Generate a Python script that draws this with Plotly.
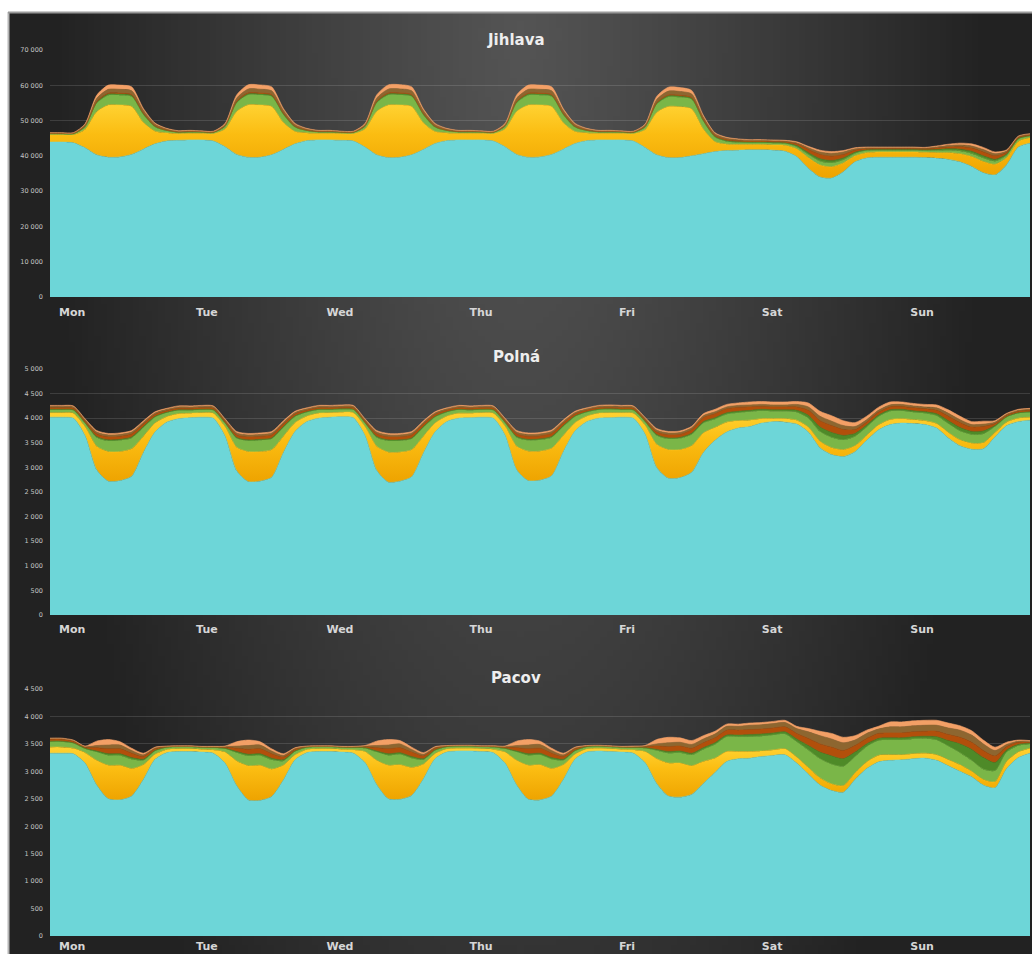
import base64, struct, zlib, math
import plotly.graph_objects as go

W, H = 1032, 954

HOURS = list(range(0, 169, 2))
DAY_LABELS = ["Mon", "Tue", "Wed", "Thu", "Fri", "Sat", "Sun"]
DAY_LABEL_HOURS = [3.8, 26.9, 49.7, 73.9, 98.9, 123.8, 149.5]
PANEL_TITLES = ["Jihlava", "Polná", "Pacov"]
LAYER_NAMES = ["L1", "L2", "L3", "L4", "L5", "L6", "L7"]
COLORS = ["#6dd6d8", "#fdc31e", "#7ab648", "#4e8a28", "#b24f0b", "#8d6630", "#f3a066"]

# ---------------- Jihlava ----------------
J_CYAN = [43900, 43900, 43700, 42300, 40300, 39600, 39700, 40400, 41900, 43400, 44200, 44400,
          44500, 44500, 44200, 42600, 40400, 39600, 39600, 40300, 41800, 43400, 44300, 44500,
          44500, 44400, 44200, 42500, 40300, 39500, 39600, 40300, 41800, 43500, 44300, 44500,
          44500, 44500, 44200, 42600, 40400, 39600, 39700, 40400, 41900, 43500, 44300, 44500,
          44500, 44500, 44200, 42400, 40300, 39500, 39500, 40000, 40600, 41200, 41500, 41600,
          41700, 41700, 41600, 41300, 39800, 36500, 34000, 33700, 35500, 38300, 39400, 39600,
          39600, 39600, 39600, 39500, 39300, 39000, 38300, 37000, 35200, 34600, 37500, 42500,
          43600]
J_YELLOW = [2100, 2100, 2300, 5200, 12200, 14800, 14700, 13600, 7600, 3600, 2300, 1900,
            1900, 1900, 2100, 5000, 12200, 14900, 14800, 13700, 7700, 3500, 2200, 1900,
            1900, 1900, 2100, 5100, 12300, 14900, 14800, 13700, 7600, 3400, 2200, 1900,
            1900, 1900, 2100, 5000, 12200, 14800, 14700, 13600, 7500, 3400, 2200, 1900,
            1900, 1900, 2100, 5000, 12000, 14500, 14400, 13300, 7000, 2800, 1800, 1600,
            1500, 1500, 1500, 1700, 2200, 3000, 3400, 3200, 2500, 1700, 1500, 1500,
            1500, 1500, 1500, 1500, 1600, 1900, 2300, 2800, 3200, 3000, 2000, 1600,
            1500]
J_LGREEN = [200, 200, 200, 700, 2400, 2800, 2800, 2800, 2200, 1200, 600, 300,
            300, 250, 250, 700, 2400, 2800, 2850, 2800, 2200, 1200, 600, 300,
            300, 250, 250, 700, 2400, 2850, 2850, 2800, 2200, 1200, 600, 300,
            300, 250, 250, 700, 2400, 2800, 2800, 2800, 2200, 1200, 600, 300,
            300, 250, 250, 700, 2300, 2700, 2700, 2700, 2200, 1300, 800, 600,
            500, 500, 500, 500, 600, 900, 1100, 1100, 900, 700, 600, 500,
            500, 500, 500, 500, 600, 700, 800, 900, 1000, 900, 700, 600,
            500]
J_DGREEN = [100, 100, 100, 150, 250, 300, 300, 300, 250, 150, 100, 100,
            100, 100, 100, 150, 250, 300, 300, 300, 250, 150, 100, 100,
            100, 100, 100, 150, 250, 300, 320, 300, 250, 150, 100, 100,
            100, 100, 100, 150, 250, 300, 300, 300, 250, 150, 100, 100,
            100, 100, 100, 150, 250, 300, 300, 300, 250, 200, 200, 200,
            200, 200, 200, 200, 300, 500, 700, 700, 500, 300, 200, 200,
            200, 200, 200, 200, 300, 400, 500, 600, 600, 500, 300, 200,
            100]
J_DORANGE = [80, 80, 80, 100, 200, 250, 250, 250, 200, 150, 100, 80,
             80, 80, 80, 100, 200, 250, 250, 250, 200, 150, 100, 80,
             80, 80, 80, 100, 200, 260, 260, 250, 200, 150, 100, 80,
             80, 80, 80, 100, 200, 250, 250, 250, 200, 150, 100, 80,
             80, 80, 80, 100, 200, 250, 250, 250, 250, 250, 300, 300,
             300, 300, 300, 300, 500, 900, 1200, 1200, 1000, 600, 300, 300,
             300, 300, 300, 300, 400, 500, 700, 900, 1100, 1000, 500, 300,
             200]
J_BROWN = [100, 100, 100, 300, 900, 1100, 1100, 1100, 800, 500, 300, 200,
           200, 150, 150, 300, 900, 1100, 1100, 1100, 800, 500, 300, 200,
           200, 150, 150, 300, 900, 1100, 1150, 1100, 800, 500, 300, 200,
           200, 150, 150, 300, 900, 1100, 1100, 1100, 800, 500, 300, 200,
           200, 150, 150, 300, 900, 1100, 1100, 1000, 700, 500, 400, 300,
           200, 200, 200, 200, 300, 500, 700, 800, 700, 400, 300, 200,
           200, 200, 200, 200, 300, 400, 500, 600, 700, 600, 400, 200,
           200]
J_SALMON = [100, 100, 100, 300, 900, 1200, 1200, 1100, 500, 300, 200, 150,
            150, 100, 100, 300, 900, 1200, 1200, 1100, 500, 300, 200, 150,
            150, 100, 100, 300, 900, 1200, 1200, 1100, 500, 300, 200, 150,
            150, 100, 100, 300, 900, 1200, 1200, 1100, 500, 300, 200, 150,
            150, 100, 100, 300, 900, 1100, 1100, 1000, 500, 300, 250, 200,
            200, 200, 200, 200, 300, 400, 500, 500, 400, 300, 200, 200,
            200, 200, 200, 200, 300, 400, 500, 600, 600, 500, 300, 200,
            200]

# ---------------- Polná ----------------
P_CYAN = [4020, 4020, 4000, 3650, 2950, 2720, 2730, 2820, 3300, 3720, 3920, 3990,
          4010, 4020, 4000, 3640, 2930, 2710, 2720, 2800, 3300, 3730, 3930, 4000,
          4020, 4030, 4010, 3650, 2940, 2700, 2720, 2810, 3290, 3720, 3930, 4000,
          4010, 4020, 4000, 3660, 2950, 2730, 2740, 2830, 3320, 3740, 3930, 4000,
          4010, 4020, 4000, 3680, 3000, 2780, 2790, 2900, 3300, 3550, 3720, 3800,
          3830, 3900, 3930, 3920, 3880, 3720, 3400, 3260, 3220, 3320, 3550, 3760,
          3870, 3900, 3890, 3870, 3800, 3600, 3440, 3370, 3380, 3620, 3850, 3930,
          3960]
P_YELLOW = [90, 90, 100, 180, 480, 600, 590, 560, 330, 180, 110, 100,
            90, 90, 100, 190, 480, 610, 600, 560, 330, 180, 110, 100,
            90, 90, 100, 180, 490, 610, 590, 550, 340, 180, 110, 100,
            90, 90, 100, 180, 480, 600, 590, 560, 330, 170, 110, 100,
            100, 90, 100, 180, 470, 580, 570, 540, 400, 260, 200, 150,
            130, 90, 60, 70, 80, 100, 130, 140, 140, 120, 100, 100,
            100, 90, 80, 80, 90, 110, 120, 120, 120, 90, 70, 70,
            60]
P_LGREEN = [60, 60, 60, 70, 180, 220, 230, 220, 180, 120, 80, 70,
            60, 60, 60, 70, 180, 220, 230, 220, 180, 120, 80, 70,
            60, 60, 60, 70, 180, 230, 230, 220, 180, 120, 80, 70,
            60, 60, 60, 70, 180, 220, 230, 220, 180, 120, 80, 70,
            70, 60, 60, 70, 180, 220, 230, 230, 200, 170, 160, 160,
            170, 160, 150, 150, 160, 180, 200, 210, 200, 190, 170, 170,
            170, 160, 150, 150, 160, 180, 180, 180, 180, 120, 100, 100,
            100]
P_DGREEN = [10, 10, 10, 10, 20, 20, 20, 20, 20, 15, 10, 10,
            10, 10, 10, 10, 20, 20, 20, 20, 20, 15, 10, 10,
            10, 10, 10, 10, 20, 20, 20, 20, 20, 15, 10, 10,
            10, 10, 10, 10, 20, 20, 20, 20, 20, 15, 10, 10,
            10, 10, 10, 10, 20, 20, 20, 25, 30, 30, 30, 30,
            30, 30, 30, 30, 40, 60, 90, 100, 90, 60, 40, 30,
            30, 30, 30, 30, 40, 60, 70, 60, 60, 20, 10, 10,
            10]
P_DORANGE = [30, 30, 30, 30, 50, 60, 60, 60, 50, 40, 30, 30,
             30, 30, 30, 30, 50, 60, 60, 60, 50, 40, 30, 30,
             30, 30, 30, 30, 50, 60, 60, 60, 50, 40, 30, 30,
             30, 30, 30, 30, 50, 60, 60, 60, 50, 40, 30, 30,
             30, 30, 30, 30, 50, 60, 60, 70, 80, 80, 80, 80,
             70, 60, 60, 60, 70, 100, 130, 140, 120, 80, 60, 60,
             60, 60, 60, 60, 70, 90, 100, 90, 90, 40, 30, 30,
             30]
P_BROWN = [30, 30, 30, 30, 40, 40, 40, 40, 35, 30, 30, 30,
           30, 30, 30, 30, 40, 40, 40, 40, 35, 30, 30, 30,
           30, 30, 30, 30, 40, 40, 40, 40, 35, 30, 30, 30,
           30, 30, 30, 30, 40, 40, 40, 40, 35, 30, 30, 30,
           30, 30, 30, 30, 40, 40, 40, 40, 40, 40, 40, 40,
           40, 40, 40, 40, 50, 70, 90, 90, 80, 60, 50, 40,
           40, 40, 40, 40, 50, 60, 60, 50, 50, 30, 20, 20,
           20]
P_SALMON = [20, 20, 20, 20, 30, 30, 30, 30, 30, 25, 20, 20,
            20, 20, 20, 20, 30, 30, 30, 30, 30, 25, 20, 20,
            20, 20, 20, 20, 30, 30, 30, 30, 30, 25, 20, 20,
            20, 20, 20, 20, 30, 30, 30, 30, 30, 25, 20, 20,
            20, 20, 20, 20, 30, 30, 30, 30, 40, 50, 50, 50,
            60, 60, 60, 60, 60, 80, 100, 110, 100, 80, 70, 60,
            60, 50, 50, 50, 60, 70, 70, 60, 60, 30, 20, 20,
            20]

# ---------------- Pacov ----------------
C_CYAN = [3330, 3330, 3320, 3150, 2750, 2500, 2480, 2550, 2850, 3220, 3340, 3360,
          3360, 3350, 3330, 3150, 2740, 2480, 2470, 2540, 2840, 3210, 3340, 3360,
          3360, 3350, 3330, 3160, 2760, 2500, 2490, 2560, 2860, 3230, 3350, 3370,
          3370, 3360, 3340, 3150, 2750, 2490, 2480, 2550, 2850, 3220, 3350, 3370,
          3360, 3350, 3330, 3160, 2780, 2550, 2530, 2580, 2780, 2980, 3180, 3230,
          3240, 3270, 3290, 3300, 3150, 2950, 2750, 2650, 2620, 2850, 3050, 3170,
          3200, 3210, 3230, 3240, 3200, 3100, 3000, 2900, 2750, 2700, 3050, 3250,
          3330]
C_YELLOW = [110, 110, 100, 190, 450, 610, 630, 500, 270, 90, 55, 50,
            50, 50, 60, 200, 450, 620, 640, 500, 270, 90, 55, 50,
            50, 50, 60, 200, 440, 610, 630, 510, 270, 90, 55, 50,
            50, 50, 60, 200, 450, 620, 640, 500, 270, 90, 55, 50,
            50, 50, 60, 200, 450, 600, 620, 520, 400, 260, 180, 130,
            120, 100, 100, 110, 110, 120, 130, 120, 120, 120, 120, 120,
            100, 90, 90, 90, 100, 110, 120, 100, 100, 110, 130, 100,
            90]
C_LGREEN = [100, 100, 90, 70, 150, 180, 180, 170, 80, 60, 40, 35,
            35, 35, 40, 60, 150, 180, 180, 170, 80, 60, 40, 35,
            35, 35, 40, 60, 150, 180, 190, 170, 80, 60, 40, 35,
            35, 35, 40, 60, 150, 180, 180, 170, 80, 60, 40, 35,
            35, 35, 40, 60, 150, 180, 190, 200, 220, 250, 270, 270,
            270, 270, 270, 270, 280, 320, 350, 360, 350, 300, 280, 270,
            270, 270, 270, 270, 270, 250, 220, 200, 190, 200, 170, 120,
            80]
C_DGREEN = [10, 10, 10, 10, 20, 30, 30, 30, 20, 10, 5, 5,
            5, 5, 5, 10, 20, 30, 30, 30, 20, 10, 5, 5,
            5, 5, 5, 10, 20, 30, 30, 30, 20, 10, 5, 5,
            5, 5, 5, 10, 20, 30, 30, 30, 20, 10, 5, 5,
            5, 5, 5, 10, 20, 30, 30, 30, 30, 30, 30, 30,
            40, 40, 40, 40, 50, 80, 120, 150, 140, 80, 50, 40,
            40, 40, 40, 40, 60, 100, 160, 200, 210, 150, 40, 20,
            10]
C_DORANGE = [35, 35, 30, 20, 60, 90, 90, 80, 50, 30, 10, 5,
             5, 5, 10, 20, 60, 90, 90, 80, 50, 30, 10, 5,
             5, 5, 10, 20, 60, 90, 90, 80, 50, 30, 10, 5,
             5, 5, 10, 20, 60, 90, 90, 80, 50, 30, 10, 5,
             5, 5, 10, 20, 60, 90, 90, 90, 90, 90, 90, 90,
             90, 90, 90, 90, 100, 130, 150, 160, 150, 120, 100, 90,
             90, 90, 90, 90, 100, 110, 120, 130, 130, 120, 60, 40,
             20]
C_BROWN = [10, 10, 10, 10, 40, 70, 70, 50, 30, 15, 5, 5,
           5, 5, 5, 10, 40, 70, 70, 50, 30, 15, 5, 5,
           5, 5, 5, 10, 40, 70, 70, 50, 30, 15, 5, 5,
           5, 5, 5, 10, 40, 70, 70, 50, 30, 15, 5, 5,
           5, 5, 5, 10, 40, 70, 70, 70, 70, 70, 70, 70,
           80, 80, 80, 80, 90, 120, 150, 150, 140, 100, 90, 80,
           110, 110, 110, 110, 110, 120, 130, 130, 120, 100, 40, 20,
           10]
C_SALMON = [10, 10, 10, 10, 80, 100, 60, 40, 30, 15, 5, 5,
            5, 5, 5, 10, 80, 100, 60, 40, 30, 15, 5, 5,
            5, 5, 5, 10, 80, 100, 60, 40, 30, 15, 5, 5,
            5, 5, 5, 10, 80, 100, 60, 40, 30, 15, 5, 5,
            5, 5, 10, 10, 80, 100, 80, 70, 60, 50, 40, 40,
            40, 40, 40, 40, 40, 60, 80, 100, 100, 80, 60, 50,
            90, 90, 90, 90, 90, 90, 80, 80, 70, 60, 40, 20,
            20]

PANELS = [
    [J_CYAN, J_YELLOW, J_LGREEN, J_DGREEN, J_DORANGE, J_BROWN, J_SALMON],
    [P_CYAN, P_YELLOW, P_LGREEN, P_DGREEN, P_DORANGE, P_BROWN, P_SALMON],
    [C_CYAN, C_YELLOW, C_LGREEN, C_DGREEN, C_DORANGE, C_BROWN, C_SALMON],
]
Y_MAX = [70000, 5000, 4500]
Y_DTICK = [10000, 500, 500]


# ---------- background gradient image (generated PNG) ----------
def chunk(tag, data):
    return struct.pack(">I", len(data)) + tag + data + struct.pack(">I", zlib.crc32(tag + data) & 0xffffffff)


def gradient_uri(w, h):
    rows = []
    for j in range(h):
        v = j / (h - 1)
        row = bytearray([0])
        for i in range(w):
            u = i / (w - 1)
            dx = (u - 0.5) / 0.46
            dy = (v - 0.02) / 1.45
            d = min(1.0, math.sqrt(dx * dx + dy * dy))
            c = int(round(84 - 50 * d ** 1.1))
            row += bytes([c, c, c])
        rows.append(bytes(row))
    raw = b"".join(rows)
    png = b"\x89PNG\r\n\x1a\n" + chunk(b"IHDR", struct.pack(">IIBBBBB", w, h, 8, 2, 0, 0, 0)) \
        + chunk(b"IDAT", zlib.compress(raw, 9)) + chunk(b"IEND", b"")
    return "data:image/png;base64," + base64.b64encode(png).decode()


fig = go.Figure()

X0, X1 = 50, 1030
panel_px = [(50, 297), (369, 615), (689, 936)]
title_px = [40, 357, 678]
label_standoff = [7, 6, 2]

for p, series in enumerate(PANELS):
    xa = "x" if p == 0 else f"x{p+1}"
    ya = "y" if p == 0 else f"y{p+1}"
    for i, vals in enumerate(series):
        kw = dict(x=HOURS, y=vals, mode="lines", stackgroup=f"s{p}",
                  line=dict(width=0.6, color=COLORS[i], shape="spline", smoothing=0.7),
                  fillcolor=COLORS[i], name=LAYER_NAMES[i], showlegend=False,
                  xaxis=xa, yaxis=ya, hoverinfo="skip")
        if i == 1:
            kw["fillgradient"] = dict(type="vertical",
                                      colorscale=[[0, "#eea300"], [0.6, "#fbbd12"], [1, "#ffd232"]])
        fig.add_trace(go.Scatter(**kw))

layout = dict(width=W, height=H, autosize=False,
              margin=dict(l=0, r=0, t=0, b=0, pad=0, autoexpand=False),
              paper_bgcolor="#262626", plot_bgcolor="rgba(0,0,0,0)",
              separators=". ", showlegend=False)

for p in range(3):
    top, bot = panel_px[p]
    xk = "xaxis" if p == 0 else f"xaxis{p+1}"
    yk = "yaxis" if p == 0 else f"yaxis{p+1}"
    ya = "y" if p == 0 else f"y{p+1}"
    xa = "x" if p == 0 else f"x{p+1}"
    layout[xk] = dict(domain=[X0 / W, X1 / W], range=[0, 168], anchor=ya, automargin=False,
                      tickmode="array", tickvals=DAY_LABEL_HOURS, ticktext=DAY_LABELS,
                      showgrid=False, zeroline=False, showline=False, ticks="",
                      ticklabelstandoff=label_standoff[p],
                      tickfont=dict(family="DejaVu Sans", size=11, color="#d6d6d6", weight="bold"))
    layout[yk] = dict(domain=[1 - bot / H, 1 - top / H], range=[0, Y_MAX[p]], anchor=xa,
                      automargin=False,
                      dtick=Y_DTICK[p], tick0=0, showgrid=True, tickformat=",d",
                      gridcolor="rgba(255,255,255,0.13)", gridwidth=1,
                      zeroline=False, showline=False, ticks="", separatethousands=True,
                      ticklabelstandoff=6,
                      tickfont=dict(family="DejaVu Sans", size=6.5, color="#c4c4c4"))

fig.update_layout(**layout)

fig.add_layout_image(dict(source=gradient_uri(160, 150), xref="paper", yref="paper",
                          x=8 / W, y=1 - 12 / H, sizex=1 - 8 / W, sizey=1 - 12 / H,
                          xanchor="left", yanchor="top", sizing="stretch", layer="below"))

for p, t in enumerate(PANEL_TITLES):
    fig.add_annotation(text=t, x=516 / W, y=1 - title_px[p] / H, xref="paper", yref="paper",
                       showarrow=False, xanchor="center", yanchor="middle",
                       font=dict(family="DejaVu Sans", size=15, color="#eeeeee", weight="bold"))

# white page margin strips (top and left) and the light frame edge
fig.add_shape(type="rect", xref="paper", yref="paper", x0=0, x1=1, y0=1 - 12 / H, y1=1,
              line=dict(width=0), fillcolor="white", layer="above")
fig.add_shape(type="rect", xref="paper", yref="paper", x0=0, x1=8 / W, y0=0, y1=1,
              line=dict(width=0), fillcolor="white", layer="above")
fig.add_shape(type="line", xref="paper", yref="paper", x0=8.5 / W, x1=8.5 / W, y0=0, y1=1 - 12 / H,
              line=dict(color="#b5b5b5", width=2), layer="above")
fig.add_shape(type="line", xref="paper", yref="paper", x0=8 / W, x1=1, y0=1 - 12.5 / H, y1=1 - 12.5 / H,
              line=dict(color="#9a9a9a", width=2), layer="above")

fig.write_html("out.html", config={"displayModeBar": False},
               post_script="document.body.style.margin='0';document.body.style.overflow='hidden';")
